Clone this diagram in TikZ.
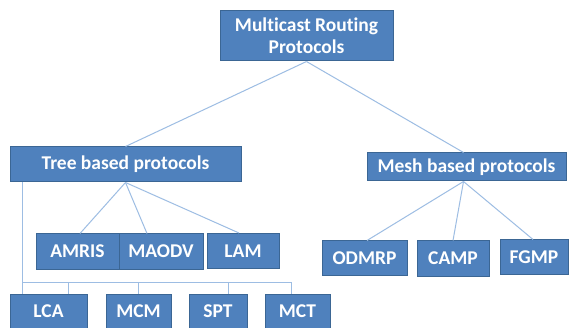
\documentclass[tikz,border=0pt]{standalone}
\usepackage{fontspec}
\setmainfont{Carlito}[Ligatures=NoCommon]
\usepackage{tikz}
\usetikzlibrary{calc, positioning}

\definecolor{boxblue}{HTML}{4F81BD}
\definecolor{boxedge}{HTML}{3B6694}
\definecolor{linkblue}{HTML}{9DBDE3}

\tikzset{
    proto/.style={draw=boxedge, fill=boxblue, line width=1pt, text=white,
        font=\bfseries\fontsize{19.5}{22}\selectfont, inner sep=0pt,
        align=center},
    link/.style={draw=linkblue, line width=1pt}
}

\begin{document}
\begin{tikzpicture}[x=1pt, y=-1pt]
    \useasboundingbox[fill=white] (0,0) rectangle (569,328);
    % Gốc
    \node[proto, minimum width=173pt, minimum height=50pt] (root) at (306.5,36)
        {Multicast Routing\\Protocols};
    % Hai nhánh
    \node[proto, minimum width=231pt, minimum height=35pt] (tree) at (125.5,164.5)
        {Tree based protocols};
    \node[proto, minimum width=199pt, minimum height=28pt] (mesh) at (466.5,167)
        {Mesh based protocols};
    % Con của nhánh cây
    \node[proto, minimum width=83pt, minimum height=35pt] (amris) at (77.5,251.5) {AMRIS};
    \node[proto, minimum width=84pt, minimum height=35pt] (maodv) at (161,251.5) {MAODV};
    \node[proto, minimum width=72pt, minimum height=35pt] (lam) at (243,251) {LAM};
    \foreach \name/\x/\w/\txt in {lca/48.5/77/LCA, mcm/138.5/65/MCM,
        spt/218/58/SPT, mct/297.5/65/MCT} {
        \node[proto, minimum width=\w pt, minimum height=35pt] (\name) at (\x,311.5) {\txt};
    }
    % Con của nhánh lưới
    \node[proto, minimum width=85pt, minimum height=34pt] (odmrp) at (364.5,258) {ODMRP};
    \node[proto, minimum width=72pt, minimum height=35pt] (camp) at (453,258.5) {CAMP};
    \node[proto, minimum width=68pt, minimum height=34pt] (fgmp) at (534,257) {FGMP};

    % Đường nối
    \draw[link] (root.south) -- (tree.north);
    \draw[link] (root.south) -- ([xshift=-3pt]mesh.north);
    \draw[link] (tree.south) -- ([xshift=2.5pt]amris.north);
    \draw[link] (tree.south) -- ([xshift=-14pt]maodv.north);
    \draw[link] (tree.south) -- ([xshift=-4pt]lam.north);
    \draw[link] ([xshift=-3pt]mesh.south) -- ([xshift=2.5pt]odmrp.north);
    \draw[link] ([xshift=-3pt]mesh.south) -- (camp.north);
    \draw[link] ([xshift=-3pt]mesh.south) -- ([xshift=-1pt]fgmp.north);
    % Thanh ngang
    \coordinate (busL) at (23,282);
    \coordinate (busR) at (291,282);
    \draw[link] ([xshift=13pt]tree.south west) -- ([xshift=13pt]lca.north west);
    \draw[link] (busL) -- (busR);
    \draw[link] ([xshift=19.5pt]lca.north) -- ([xshift=19.5pt]lca.north |- busL);
    \draw[link] (mcm.north) -- (mcm.north |- busL);
    \draw[link] ([xshift=10pt]spt.north) -- ([xshift=10pt]spt.north |- busL);
    \draw[link] (busR) -- (busR |- mct.north);
\end{tikzpicture}
\end{document}
